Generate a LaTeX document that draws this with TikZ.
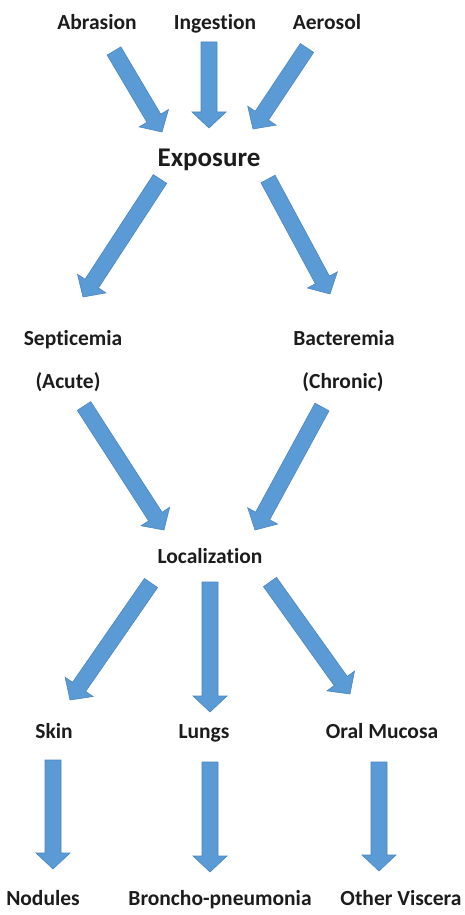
\documentclass[tikz,border=0pt]{standalone}
\usepackage{fontspec}
\setmainfont{Carlito}[Ligatures=NoCommon]
\usetikzlibrary{calc}

\definecolor{arrowblue}{HTML}{5B9BD5}
\definecolor{arrowedge}{HTML}{4A86C5}
\definecolor{labelink}{HTML}{1C1C1C}

\tikzset{
  stage/.style={anchor=base, inner sep=0pt, text=labelink,
    font=\bfseries\fontsize{21.5}{25}\selectfont},
  bigstage/.style={stage, font=\bfseries\fontsize{27}{31}\selectfont},
  blockarrow/.style={fill=arrowblue, draw=arrowedge, line width=0.6pt,
    to path={let \p1=(\tikztostart), \p2=(\tikztotarget),
      \n1={atan2(\y2-\y1,\x2-\x1)} in
      ($(\p1)+({\n1+90}:8pt)$)
      -- ($(\p2)+({\n1+180}:16pt)+({\n1+90}:8pt)$)
      -- ($(\p2)+({\n1+180}:16pt)+({\n1+90}:17pt)$)
      -- (\p2)
      -- ($(\p2)+({\n1+180}:16pt)+({\n1-90}:17pt)$)
      -- ($(\p2)+({\n1+180}:16pt)+({\n1-90}:8pt)$)
      -- ($(\p1)+({\n1-90}:8pt)$) -- cycle}}
}

\begin{document}
\begin{tikzpicture}[x=1pt, y=-1pt]
    \useasboundingbox (0, 0) rectangle (464, 915);

    % Routes of entry
    \node[stage] (abrasion) at (97, 30) {Abrasion};
    \node[stage] (ingestion) at (215, 30) {Ingestion};
    \node[stage] (aerosol) at (327, 30) {Aerosol};
    \node[bigstage] (exposure) at (209, 166) {Exposure};

    % Course of disease
    \node[stage] (septicemia) at (73, 345) {Septicemia};
    \node[stage] (acute) at (68, 388) {(Acute)};
    \node[stage] (bacteremia) at (344, 345) {Bacteremia};
    \node[stage] (chronic) at (343, 388) {(Chronic)};
    \node[stage] (localization) at (210, 563) {Localization};

    % Sites
    \node[stage] (skin) at (54, 738) {Skin};
    \node[stage] (lungs) at (204, 738) {Lungs};
    \node[stage] (oral) at (382, 738) {Oral Mucosa};

    % Lesions
    \node[stage] (nodules) at (43, 905) {Nodules};
    \node[stage] (broncho) at (220, 905) {Broncho-pneumonia};
    \node[stage] (viscera) at (401, 905) {Other Viscera};

    % Arrow ends
    \coordinate (abr-out) at (114, 51);
    \coordinate (exp-in1) at (162, 132);
    \coordinate (ing-out) at (209, 42);
    \coordinate (exp-in2) at (209, 128);
    \coordinate (aer-out) at (307, 48);
    \coordinate (exp-in3) at (253, 129);
    \coordinate (exp-out1) at (160, 179);
    \coordinate (sep-in) at (83, 297);
    \coordinate (exp-out2) at (268, 179);
    \coordinate (bac-in) at (330, 294);
    \coordinate (acu-out) at (84, 406);
    \coordinate (loc-in1) at (164, 530);
    \coordinate (chr-out) at (322, 407);
    \coordinate (loc-in2) at (255, 530);
    \coordinate (loc-out1) at (151, 583);
    \coordinate (skin-in) at (70, 700);
    \coordinate (loc-out2) at (210, 582);
    \coordinate (lung-in) at (210, 712);
    \coordinate (loc-out3) at (270, 582);
    \coordinate (oral-in) at (350, 694);
    \coordinate (skin-out) at (53, 760);
    \coordinate (nod-in) at (53, 869);
    \coordinate (lung-out) at (210, 762);
    \coordinate (bro-in) at (210, 872);
    \coordinate (oral-out) at (379, 762);
    \coordinate (vis-in) at (379, 871);

    % Block arrows
    \draw[blockarrow] (abr-out) to (exp-in1);
    \draw[blockarrow] (ing-out) to (exp-in2);
    \draw[blockarrow] (aer-out) to (exp-in3);
    \draw[blockarrow] (exp-out1) to (sep-in);
    \draw[blockarrow] (exp-out2) to (bac-in);
    \draw[blockarrow] (acu-out) to (loc-in1);
    \draw[blockarrow] (chr-out) to (loc-in2);
    \draw[blockarrow] (loc-out1) to (skin-in);
    \draw[blockarrow] (loc-out2) to (lung-in);
    \draw[blockarrow] (loc-out3) to (oral-in);
    \draw[blockarrow] (skin-out) to (nod-in);
    \draw[blockarrow] (lung-out) to (bro-in);
    \draw[blockarrow] (oral-out) to (vis-in);
\end{tikzpicture}
\end{document}
